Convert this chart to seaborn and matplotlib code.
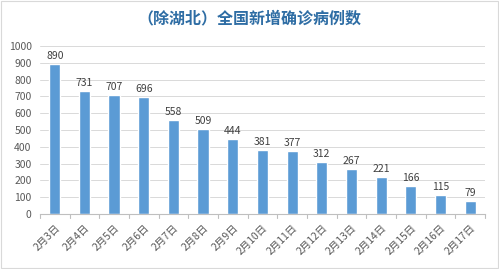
import matplotlib
matplotlib.use("Agg")
import matplotlib.pyplot as plt
import seaborn as sns
import pandas as pd
from matplotlib.patches import Rectangle

dates = ["2月3日", "2月4日", "2月5日", "2月6日", "2月7日", "2月8日", "2月9日", "2月10日",
         "2月11日", "2月12日", "2月13日", "2月14日", "2月15日", "2月16日", "2月17日"]
cases = [890, 731, 707, 696, 558, 509, 444, 381, 377, 312, 267, 221, 166, 115, 79]
yticks = [0, 100, 200, 300, 400, 500, 600, 700, 800, 900, 1000]
title = "（除湖北）全国新增确诊病例数"

sns.set_theme(style="white")
plt.rcParams['font.family'] = ['Noto Sans CJK SC', 'DejaVu Sans']

df = pd.DataFrame({"date": dates, "cases": cases})

fig = plt.figure(figsize=(4.99, 2.69), dpi=100)
ax = fig.add_axes([0.080, 0.204, 0.892, 0.625])
sns.barplot(data=df, x="date", y="cases", color="#5B9BD5", saturation=1, width=0.38, ax=ax)

ax.set_ylim(0, 1000)
ax.set_yticks(yticks)
ax.set_yticklabels([str(t) for t in yticks], fontsize=7.5, color="#595959")
ax.yaxis.grid(True, color="#D9D9D9", linewidth=0.7)
ax.set_axisbelow(True)
ax.set_xlabel("")
ax.set_ylabel("")
for s in ["top", "right", "left"]:
    ax.spines[s].set_visible(False)
ax.spines["bottom"].set_color("#BFBFBF")
ax.spines["bottom"].set_linewidth(0.8)
ax.tick_params(axis="y", length=0, pad=6)
ax.set_xlim(-0.5, len(dates) - 0.5)
ax.set_xticks(range(len(dates)))
ax.set_xticklabels(dates, rotation=45, ha="right", rotation_mode="anchor", fontsize=7.5, color="#595959")
ax.tick_params(axis="x", length=0, pad=6)
# boundary tick marks
for b in range(len(dates) + 1):
    ax.plot([b - 0.5, b - 0.5], [0, -22], color="#BFBFBF", linewidth=0.8, clip_on=False)

for i, v in enumerate(cases):
    ax.text(i, v + 18, str(v), ha="center", va="bottom", fontsize=7.5, color="#404040")

fig.text(0.5, 0.93, title, ha="center", va="center", fontsize=11.5, fontweight="bold", color="#2E6DA4")
fig.patches.append(Rectangle((0.003, 0.005), 0.994, 0.99, transform=fig.transFigure,
                             fill=False, edgecolor="#D9D9D9", linewidth=0.8))
fig.savefig("out.png", dpi=100)
